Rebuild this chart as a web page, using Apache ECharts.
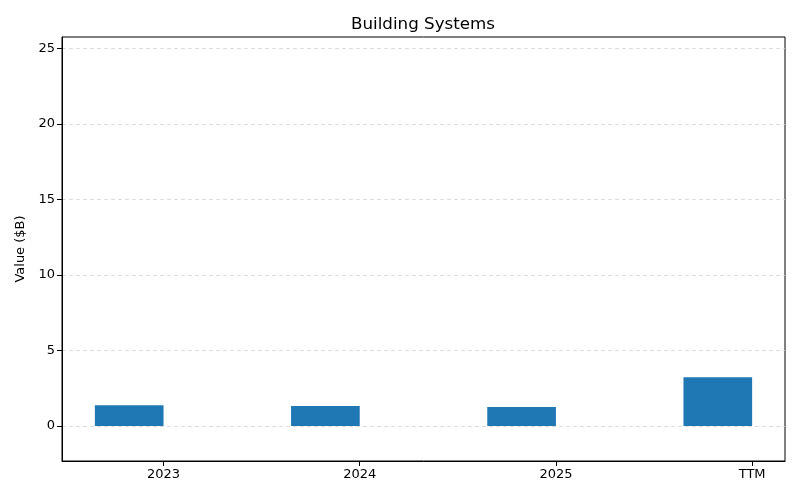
<!DOCTYPE html>
<html>
<head>
<meta charset="utf-8">
<script src="https://cdn.jsdelivr.net/npm/echarts@6/dist/echarts.min.js"></script>
<style>
  html, body { margin: 0; padding: 0; background: #fff; }
  #chart { width: 800px; height: 500px; }
</style>
</head>
<body>
<div id="chart"></div>
<script>
// chart data
var categories = ['2023', '2024', '2025', 'TTM'];
var values = [1.38, 1.32, 1.25, 3.22];
var yTicks = [0, 5, 10, 15, 20, 25];

var myChart = echarts.init(document.getElementById('chart'));
var font = 'DejaVu Sans';
var barW = 0.35;

var xTicks = categories.map(function (c, i) { return i; });

var option = {
    animation: false,
    backgroundColor: '#fff',
    title: {
        text: 'Building Systems',
        left: 418,
        textAlign: 'center',
        top: 11,
        textStyle: { fontFamily: font, fontSize: 16.7, fontWeight: 'normal', color: '#000' }
    },
    grid: {
        left: 62, right: 15, top: 37, bottom: 39,
        show: true, borderColor: '#000', borderWidth: 1, backgroundColor: 'transparent'
    },
    xAxis: {
        type: 'value',
        min: -0.5175,
        max: 3.1675,
        axisLine: { show: true, onZero: false, lineStyle: { color: '#000' } },
        axisTick: { show: true, customValues: xTicks, length: 5, lineStyle: { color: '#000' } },
        axisLabel: {
            customValues: xTicks,
            formatter: function (v) { return categories[Math.round(v)]; },
            fontFamily: font, fontSize: 13, color: '#000', margin: 7
        },
        splitLine: { show: false }
    },
    yAxis: {
        type: 'value',
        min: -2.32,
        max: 25.76,
        name: 'Value ($B)',
        nameLocation: 'middle',
        nameGap: 35,
        nameTextStyle: { fontFamily: font, fontSize: 13, color: '#000' },
        axisLine: { show: true, onZero: false, lineStyle: { color: '#000' } },
        axisTick: { show: true, customValues: yTicks, length: 5, lineStyle: { color: '#000' } },
        axisLabel: {
            customValues: yTicks,
            fontFamily: font, fontSize: 13, color: '#000', margin: 7
        },
        splitLine: { show: true, lineStyle: { color: '#d3d3d3', type: [4, 3], width: 0.8 } }
    },
    series: [
        {
            type: 'custom',
            data: values.map(function (v, i) { return [i, v]; }),
            renderItem: function (params, api) {
                var i = api.value(0);
                var v = api.value(1);
                var p0 = api.coord([i - barW, v]);
                var p1 = api.coord([i, 0]);
                return {
                    type: 'rect',
                    shape: { x: p0[0], y: p0[1], width: p1[0] - p0[0], height: p1[1] - p0[1] },
                    style: { fill: '#1f77b4' }
                };
            }
        }
    ]
};

myChart.setOption(option);
</script>
</body>
</html>
